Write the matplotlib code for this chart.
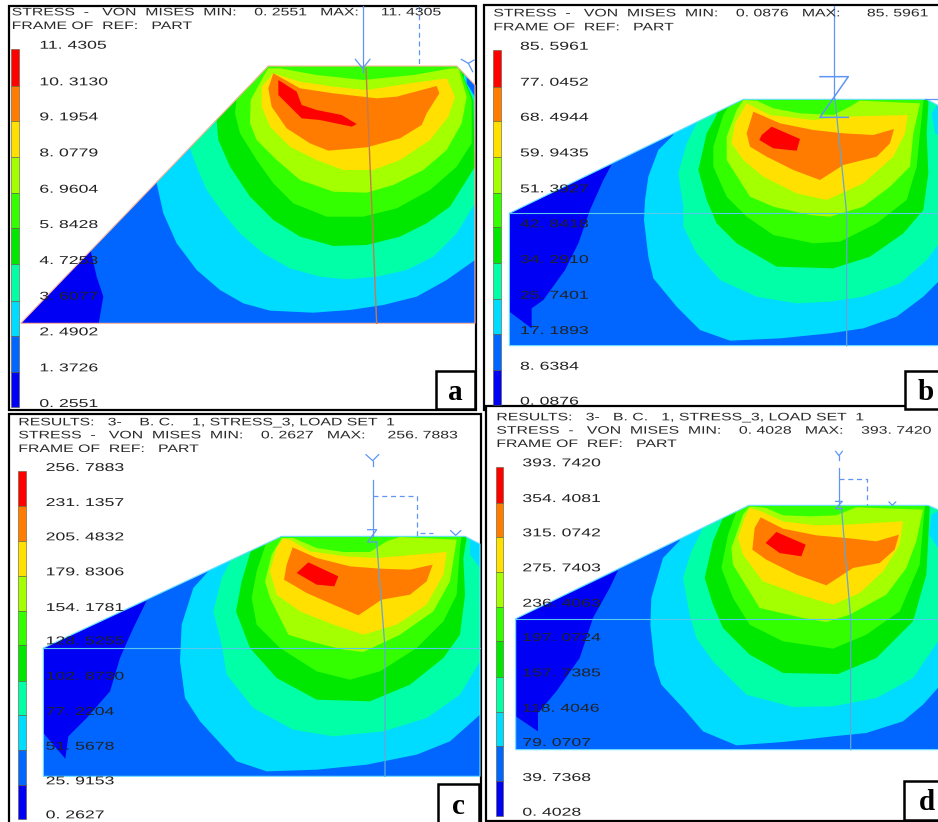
import matplotlib
matplotlib.use("Agg")
import matplotlib.pyplot as plt
import matplotlib.patheffects as pe
from matplotlib.patches import Polygon, Rectangle
from matplotlib.transforms import Affine2D

# fringe colours, lowest band first
band_colors = ['#0000f5', '#0066ff', '#00dcff', '#00ffa6', '#00e800',
               '#33ff00', '#a4ff00', '#ffe000', '#ff7c00', '#ff0000']

# levels of each panel, top of the legend first
a_levels = ['11. 4305', '10. 3130', '9. 1954', '8. 0779', '6. 9604', '5. 8428',
            '4. 7253', '3. 6077', '2. 4902', '1. 3726', '0. 2551']
b_levels = ['85. 5961', '77. 0452', '68. 4944', '59. 9435', '51. 3927', '42. 8418',
            '34. 2910', '25. 7401', '17. 1893', '8. 6384', '0. 0876']
c_levels = ['256. 7883', '231. 1357', '205. 4832', '179. 8306', '154. 1781', '128. 5255',
            '102. 8730', '77. 2204', '51. 5678', '25. 9153', '0. 2627']
d_levels = ['393. 7420', '354. 4081', '315. 0742', '275. 7403', '236. 4063', '197. 0724',
            '157. 7385', '118. 4046', '79. 0707', '39. 7368', '0. 4028']

a_header = ['STRESS  -   VON  MISES  MIN:    0. 2551   MAX:     11. 4305', 'FRAME OF  REF:   PART']
b_header = ['STRESS  -   VON  MISES  MIN:    0. 0876   MAX:      85. 5961', 'FRAME OF  REF:   PART']
c_header = ['RESULTS:   3-    B. C.    1, STRESS_3, LOAD SET  1',
            'STRESS  -   VON  MISES  MIN:    0. 2627   MAX:     256. 7883', 'FRAME OF  REF:   PART']
d_header = ['RESULTS:   3-   B. C.   1, STRESS_3, LOAD SET  1',
            'STRESS  -   VON  MISES  MIN:    0. 4028   MAX:    393. 7420', 'FRAME OF  REF:   PART']

a_part = [(62, 970), (805, 198), (1370, 198), (1425, 255), (1425, 970)]
a_dark = [(62, 970), (272, 752), (290, 830), (310, 890), (296, 970)]
a_bands = [
    [(470, 550), (490, 640), (530, 730), (590, 810), (660, 870), (730, 910), (810, 932), (940, 938),
     (1050, 930), (1150, 915), (1250, 890), (1340, 840), (1425, 780), (1425, 290), (1400, 250)],
    [(570, 445), (590, 500), (620, 570), (670, 640), (720, 700), (790, 760), (870, 805), (960, 830),
     (1040, 838), (1130, 830), (1220, 810), (1300, 770), (1370, 700), (1425, 610), (1425, 300), (1395, 245)],
    [(650, 362), (655, 420), (690, 500), (750, 590), (820, 660), (900, 710), (1000, 738), (1100, 735),
     (1200, 710), (1280, 670), (1350, 620), (1425, 500), (1420, 300), (1392, 235)],
    [(710, 290), (705, 340), (720, 400), (770, 480), (820, 550), (880, 610), (980, 650), (1090, 650),
     (1190, 625), (1290, 570), (1370, 500), (1415, 430), (1415, 300), (1385, 220)],
]
a_lime = [(805, 205), (840, 205), (950, 225), (1090, 240), (1240, 225), (1355, 205), (1375, 205), (1400, 290),
          (1385, 370), (1340, 450), (1270, 510), (1180, 555), (1100, 578), (1000, 575), (900, 540), (830, 480),
          (770, 420), (750, 370), (752, 300), (790, 230)]
a_yellow = [(820, 220), (900, 245), (1000, 260), (1100, 270), (1230, 250), (1340, 235), (1365, 290), (1345, 350),
            (1290, 420), (1200, 480), (1120, 510), (1030, 510), (950, 480), (870, 440), (810, 380), (785, 320),
            (785, 260)]
a_orange = [(820, 220), (900, 265), (1000, 280), (1130, 295), (1190, 290), (1310, 258), (1318, 280), (1280, 340),
            (1265, 375), (1200, 415), (1100, 442), (985, 452), (930, 430), (860, 385), (815, 320), (805, 265)]
a_red = [(835, 240), (890, 275), (905, 315), (950, 330), (1025, 345), (1070, 372), (1055, 380), (960, 360),
         (905, 355), (870, 320), (835, 285)]

b_part = [(88, 640), (790, 298), (1340, 298), (1400, 330), (1400, 1037), (88, 1037)]
b_dark = [(88, 640), (395, 493), (370, 540), (330, 630), (295, 730), (255, 810), (190, 900), (155, 925),
          (155, 985), (88, 935)]
b_bands = [
    [(580, 405), (535, 450), (505, 530), (495, 600), (492, 660), (505, 770), (520, 835), (590, 920), (660, 990),
     (750, 1022), (900, 1015), (1050, 1000), (1150, 985), (1250, 950), (1330, 890), (1400, 820)],
    [(650, 370), (620, 430), (595, 520), (610, 620), (610, 680), (650, 760), (720, 840), (830, 890), (950, 910),
     (1050, 905), (1150, 890), (1260, 850), (1340, 780), (1400, 700), (1400, 420), (1365, 400), (1355, 340),
     (1370, 315)],
    [(710, 345), (680, 400), (655, 510), (680, 600), (710, 670), (770, 730), (890, 800), (1060, 805), (1170, 770),
     (1270, 700), (1330, 630), (1345, 520), (1340, 400), (1345, 310)],
    [(745, 320), (730, 345), (700, 440), (700, 500), (740, 590), (800, 650), (880, 705), (1000, 730), (1080, 725),
     (1190, 670), (1280, 600), (1310, 500), (1320, 400), (1330, 305)],
]
b_lime = [(790, 300), (830, 302), (880, 325), (960, 340), (1060, 345), (1110, 320), (1140, 302), (1320, 310),
          (1300, 400), (1290, 500), (1230, 560), (1150, 620), (1050, 650), (990, 645), (880, 620), (810, 590),
          (740, 480), (740, 410), (770, 330)]
b_yellow = [(800, 310), (870, 345), (1000, 360), (1090, 350), (1283, 345), (1275, 400), (1240, 470), (1150, 550),
            (1040, 600), (950, 580), (850, 530), (790, 480), (755, 430), (765, 370)]
b_orange = [(820, 335), (900, 370), (1000, 390), (1090, 400), (1180, 405), (1242, 387), (1230, 430), (1190, 470),
            (1090, 495), (1020, 540), (940, 510), (860, 470), (810, 440), (800, 400)]
b_red = [(875, 380), (960, 417), (950, 452), (880, 445), (838, 420), (845, 405)]

c_part = [(130, 720), (845, 385), (1395, 385), (1440, 408), (1440, 1105), (130, 1105)]
c_dark = [(130, 720), (440, 578), (400, 660), (360, 750), (330, 850), (260, 930), (205, 985), (196, 1052), (130, 975)]
c_bands = [
    [(625, 490), (580, 540), (545, 650), (540, 760), (555, 870), (600, 940), (710, 1060), (800, 1090), (950, 1085),
     (1100, 1070), (1250, 1040), (1350, 1000), (1440, 920)],
    [(695, 452), (665, 510), (640, 610), (665, 710), (680, 800), (760, 900), (880, 965), (1000, 985), (1150, 970),
     (1280, 930), (1380, 860), (1440, 760), (1440, 480), (1410, 440), (1410, 400)],
    [(755, 420), (725, 520), (708, 610), (750, 720), (830, 810), (950, 875), (1110, 880), (1230, 830), (1330, 750),
     (1380, 680), (1395, 560), (1390, 450), (1400, 390)],
    [(800, 400), (770, 490), (755, 570), (770, 650), (840, 720), (950, 790), (1050, 815), (1140, 790), (1250, 720),
     (1330, 640), (1370, 560), (1380, 420), (1385, 385)],
]
c_lime = [(845, 390), (880, 390), (950, 420), (1030, 432), (1110, 432), (1160, 400), (1200, 387), (1370, 395),
          (1350, 520), (1300, 610), (1200, 680), (1090, 732), (1030, 725), (930, 700), (865, 680), (810, 570),
          (795, 520), (815, 440)]
c_yellow = [(850, 392), (870, 395), (930, 430), (1040, 445), (1130, 450), (1340, 432), (1330, 500), (1280, 590),
            (1190, 650), (1090, 680), (1000, 650), (900, 610), (830, 560), (810, 490), (830, 420)]
c_orange = [(878, 418), (950, 450), (1050, 475), (1140, 482), (1230, 485), (1298, 470), (1280, 520), (1230, 560),
            (1145, 575), (1075, 622), (1000, 590), (920, 555), (852, 515), (860, 470)]
c_red = [(925, 463), (1015, 505), (1003, 535), (950, 530), (890, 495)]

d_part = [(98, 632), (798, 292), (1335, 292), (1365, 305), (1400, 310), (1400, 1025), (98, 1025)]
d_dark = [(98, 632), (405, 487), (380, 540), (330, 630), (290, 750), (220, 850), (165, 915), (165, 970), (98, 925)]
d_bands = [
    [(590, 398), (540, 450), (505, 570), (502, 650), (515, 770), (535, 830), (600, 900), (660, 970), (760, 1012),
     (900, 1002), (1050, 985), (1150, 975), (1260, 940), (1320, 890), (1400, 800)],
    [(660, 360), (625, 430), (600, 510), (620, 620), (640, 690), (690, 760), (790, 860), (930, 897), (1050, 895),
     (1180, 870), (1290, 810), (1365, 700), (1365, 420), (1338, 380), (1345, 320), (1365, 310)],
    [(720, 330), (690, 400), (665, 510), (690, 590), (720, 660), (800, 740), (900, 795), (1065, 798), (1180, 750),
     (1290, 640), (1330, 500), (1338, 350), (1340, 300)],
    [(760, 312), (735, 380), (715, 480), (750, 570), (800, 650), (900, 700), (1050, 722), (1150, 680), (1250, 610),
     (1310, 470), (1325, 300)],
]
d_lime = [(800, 295), (850, 300), (900, 322), (980, 325), (1060, 322), (1120, 298), (1320, 305), (1300, 400),
          (1270, 480), (1210, 560), (1100, 620), (1030, 642), (960, 630), (830, 600), (750, 470), (745, 420), (780, 320)]
d_yellow = [(800, 300), (835, 310), (900, 340), (1000, 352), (1090, 350), (1260, 340), (1250, 410), (1200, 490),
            (1130, 555), (1050, 590), (950, 560), (840, 520), (780, 440), (765, 390), (785, 330)]
d_orange = [(833, 328), (900, 362), (1000, 382), (1090, 390), (1180, 400), (1248, 380), (1235, 425), (1190, 465),
            (1110, 480), (1030, 532), (940, 500), (850, 455), (808, 425), (815, 360)]
d_red = [(880, 372), (968, 410), (955, 445), (890, 435), (848, 405)]

# legend band edges, top to bottom
a_edges = [148, 258, 362, 470, 578, 684, 793, 902, 1007, 1115, 1222]
b_edges = [150, 260, 363, 470, 578, 682, 790, 898, 1002, 1110, 1215]
c_edges = [190, 295, 400, 505, 610, 712, 818, 922, 1025, 1130, 1232]
d_edges = [178, 285, 387, 492, 597, 700, 806, 912, 1015, 1120, 1225]
a_label_y = [137, 247, 352, 460, 569, 675, 783, 890, 997, 1105, 1212]
b_label_y = [140, 248, 353, 460, 568, 673, 780, 887, 993, 1100, 1205]
c_label_y = [180, 285, 388, 493, 600, 700, 806, 912, 1016, 1120, 1222]
d_label_y = [166, 273, 376, 481, 587, 690, 796, 902, 1005, 1110, 1214]


class Stretch(pe.AbstractPathEffect):
    # the bitmap font of the FE package is much wider than anything installed
    def __init__(self, sx):
        super().__init__()
        self.sx = sx

    def draw_path(self, renderer, gc, tpath, affine, rgbFace=None):
        x0 = affine.get_matrix()[0, 2]
        wide = affine + Affine2D().translate(-x0, 0).scale(self.sx, 1).translate(x0, 0)
        renderer.draw_path(gc, tpath, wide, rgbFace)


fig = plt.figure(figsize=(9.38, 8.22), dpi=100)
ax = fig.add_axes([0, 0, 1, 1])
ax.set_xlim(0, 938)
ax.set_ylim(822, 0)
ax.axis('off')


def draw_panel(ox, oy, frame, part, dark, bands, lime, yellow, orange, red, edges, label_y, levels,
               bar_x, label_x, header, header_x, header_y, part_edge, box, letter):
    def px(pts):
        return [(ox + x / 3, oy + y / 3) for x, y in pts]

    ax.add_patch(Rectangle((frame[0], frame[1]), frame[2] - frame[0], frame[3] - frame[1],
                           fc='white', ec='black', lw=1.6, zorder=1))

    # part filled with the second band, the others painted over it, inner ones last
    outline = Polygon(px(part), closed=True, fc=band_colors[1], ec='none', zorder=2)
    ax.add_patch(outline)
    shapes = [(dark, 0)]
    for i, b in enumerate(bands):
        # open contours are closed above the part, the clip trims them
        shapes.append((b + [(b[-1][0], 0), (b[0][0], 0)], i + 2))
    shapes += [(lime, 6), (yellow, 7), (orange, 8), (red, 9)]
    for pts, c in shapes:
        p = Polygon(px(pts), closed=True, fc=band_colors[c], ec='none', zorder=3)
        ax.add_patch(p)
        p.set_clip_path(outline)
    ax.add_patch(Polygon(px(part), closed=True, fc='none', ec=part_edge, lw=0.8, zorder=4))

    # legend
    for i in range(10):
        ax.bar(ox + (bar_x[0] + bar_x[1]) / 6, (edges[i + 1] - edges[i]) / 3, bottom=oy + edges[i] / 3,
               width=(bar_x[1] - bar_x[0]) / 3, color=band_colors[9 - i], edgecolor='#5a5a3a', linewidth=0.4,
               align='center', zorder=5)
    for y, s in zip(label_y, levels):
        ax.text(ox + label_x / 3, oy + y / 3, s, family='Liberation Sans', fontsize=8.2, color='#222222',
                ha='left', va='center', zorder=7, path_effects=[Stretch(1.55)])
    for y, s in zip(header_y, header):
        ax.text(ox + header_x / 3, oy + y / 3, s, family='Liberation Sans', fontsize=7.8, color='#2a2a2a',
                ha='left', va='center', zorder=7, path_effects=[Stretch(1.46)])

    # letter box
    ax.add_patch(Rectangle((ox + box[0] / 3, oy + box[1] / 3), (box[2] - box[0]) / 3, (box[3] - box[1]) / 3,
                           fc='white', ec='black', lw=1.8, zorder=8))
    ax.text(ox + (box[0] + box[2]) / 6, oy + (box[1] + box[3]) / 6 + 2, letter, family='Liberation Serif',
            weight='bold', fontsize=21, color='black', ha='center', va='center', zorder=9)


draw_panel(0, 0, (9, 6, 476, 410), a_part, a_dark, a_bands, a_lime, a_yellow, a_orange, a_red, a_edges, a_label_y,
           a_levels, (33, 57), 118, a_header, 35, [37, 78], '#ffb49a', (1307, 1113, 1425, 1228), 'a')
draw_panel(480, 0, (484, 5, 945, 410), b_part, b_dark, b_bands, b_lime, b_yellow, b_orange, b_red, b_edges, b_label_y,
           b_levels, (38, 62), 120, b_header, 40, [40, 82], '#70e0ff', (1275, 1113, 1400, 1228), 'b')
draw_panel(0, 408, (9, 414, 481, 830), c_part, c_dark, c_bands, c_lime, c_yellow, c_orange, c_red, c_edges, c_label_y,
           c_levels, (53, 77), 137, c_header, 55, [43, 82, 123], '#70e0ff', (1315, 1128, 1437, 1250), 'c')
draw_panel(483, 408, (486, 406, 945, 821), d_part, d_dark, d_bands, d_lime, d_yellow, d_orange, d_red, d_edges, d_label_y,
           d_levels, (38, 60), 118, d_header, 40, [28, 68, 108], '#70e0ff', (1262, 1120, 1400, 1235), 'd')


def crop_line(ox, oy, xs, ys, color, lw=0.9, ls='-', z=6):
    ax.plot([ox + x / 3 for x in xs], [oy + y / 3 for y in ys], color=color, lw=lw, ls=ls, zorder=z)


blue = '#5f96f5'
line_c = '#58c8ee'

# panel a reference marks
crop_line(0, 0, [1088, 1088], [18, 205], blue)
crop_line(0, 0, [1256, 1256], [18, 198], blue, ls=(0, (4, 3)))
crop_line(0, 0, [1098, 1130], [205, 970], '#c47a50', lw=1)
crop_line(0, 0, [1066, 1088, 1110], [178, 205, 178], blue)
crop_line(0, 0, [1088, 1088], [205, 215], blue)
crop_line(0, 0, [1384, 1405, 1422], [178, 190, 180], blue)
crop_line(0, 0, [1405, 1418], [190, 215], blue)

# panel b
crop_line(480, 0, [1062, 1062], [18, 298], blue)
crop_line(480, 0, [1020, 1105, 1020, 1105], [230, 230, 352, 352], blue, lw=1.1)
crop_line(480, 0, [1065, 1100, 1100], [298, 640, 1037], '#62a6d8')
crop_line(480, 0, [88, 1400], [640, 640], line_c, lw=0.8)
crop_line(480, 0, [1335, 1380], [298, 298], blue)

# panel c
crop_line(0, 408, [1118, 1118], [215, 385], blue)
crop_line(0, 408, [1118, 1250, 1250], [265, 265, 385], blue, ls=(0, (4, 3)))
crop_line(0, 408, [1098, 1118, 1136], [140, 158, 140], blue)
crop_line(0, 408, [1118, 1118], [158, 175], blue)
crop_line(0, 408, [1103, 1130, 1103, 1130], [365, 365, 402, 402], blue)
crop_line(0, 408, [1130, 1155, 1155], [402, 720, 1105], '#62a6d8')
crop_line(0, 408, [130, 1440], [720, 720], line_c, lw=0.8)
crop_line(0, 408, [1352, 1367, 1382], [368, 382, 368], blue)
crop_line(0, 408, [1260, 1300], [375, 375], blue, ls=(0, (4, 3)))

# panel d
crop_line(483, 408, [1068, 1068], [180, 292], blue)
crop_line(483, 408, [1068, 1152, 1152], [213, 213, 292], blue, ls=(0, (4, 3)))
crop_line(483, 408, [1058, 1068, 1078], [130, 143, 130], blue)
crop_line(483, 408, [1068, 1068], [143, 155], blue)
crop_line(483, 408, [1058, 1078, 1058, 1078], [280, 280, 302, 302], blue)
crop_line(483, 408, [1075, 1103, 1103], [295, 632, 1025], '#62a6d8')
crop_line(483, 408, [98, 1365], [632, 632], line_c, lw=0.8)
crop_line(483, 408, [1218, 1228, 1238], [282, 292, 282], blue)

fig.savefig('out.png', dpi=100)
